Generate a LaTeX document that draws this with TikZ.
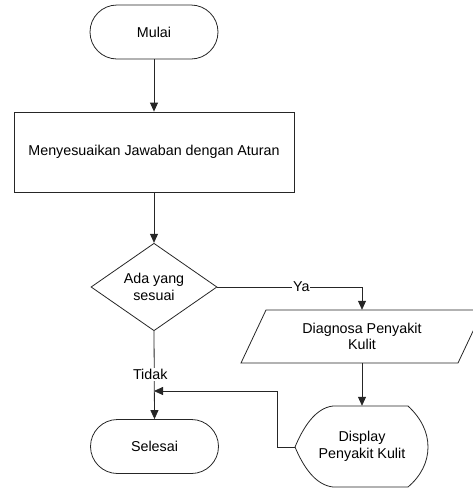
\documentclass[tikz,border=0pt]{standalone}
\usepackage{fontspec}
\setmainfont{Liberation Sans}
\usetikzlibrary{shapes.geometric,arrows.meta}
\begin{document}
\begin{tikzpicture}[x=1pt,y=-1pt,
  font=\fontsize{14.3}{16.6}\selectfont,
  line/.style={draw=black!85,line width=0.8pt},
  arr/.style={line,-{Triangle[length=9pt,width=8pt]}},
  terminal/.style={line,rectangle,rounded corners=27pt,minimum width=128pt,minimum height=54pt,inner sep=0pt},
  process/.style={line,rectangle,minimum width=280pt,minimum height=80pt,inner sep=0pt},
  decision/.style={line,diamond,minimum width=126pt,minimum height=82pt,inner sep=0pt,align=center},
  textbox/.style={align=center,inner sep=0pt},
  lbl/.style={fill=white,inner sep=1pt}]
\useasboundingbox (0,0) rectangle (473,488);

% main column
\node[terminal] (mulai) at (154,32) {Mulai};
\node[process] (proses) at (154,152) {Menyesuaikan Jawaban dengan Aturan};
\node[decision] (cek) at (154,287) {Ada yang\\sesuai};
\node[terminal] (selesai) at (154.5,446.5) {Selesai};

% input/output parallelogram
\node[textbox,minimum width=192pt,minimum height=53pt] (diagnosa) at (362,336.5) {Diagnosa Penyakit\\Kulit};
\draw[line] (266,310) -- (483,310) -- (458,363) -- (241,363) -- cycle;

% display shape
\node[textbox,minimum width=133pt,minimum height=81pt] (tampil) at (362,446.5) {Display\\Penyakit Kulit};
\coordinate (tampilkiri) at (295,447);
\draw[line] (tampilkiri) .. controls (303,428) and (315,408) .. (333,406) -- (408,406)
  .. controls (421,418) and (428,432) .. (428,447)
  .. controls (428,462) and (421,476) .. (408,487) -- (333,487)
  .. controls (315,485) and (303,466) .. (tampilkiri);

% connectors
\draw[arr] (mulai) -- (proses);
\draw[arr] (proses) -- (cek);
\draw[arr] (cek.east) -| node[lbl,pos=0.29] {Ya} (diagnosa.north);
\draw[arr] (diagnosa.south) -- (tampil.north);
\draw[arr] (cek.south) -- node[lbl,pos=0.49,xshift=-4pt] {Tidak} (selesai.north);
\coordinate (gabung) at (154,391);
\draw[arr] (tampilkiri) -- ++(-18,0) |- (gabung);
\end{tikzpicture}
\end{document}
